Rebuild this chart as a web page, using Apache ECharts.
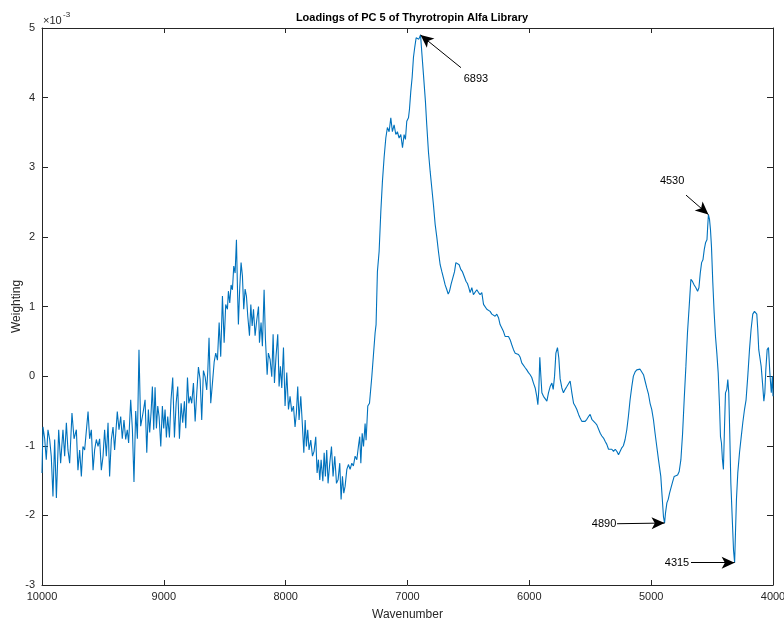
<!DOCTYPE html>
<html>
<head>
<meta charset="utf-8">
<script src="https://cdn.jsdelivr.net/npm/echarts@6/dist/echarts.min.js"></script>
<style>
  html, body { margin: 0; padding: 0; background: #ffffff; }
  #chart { width: 784px; height: 621px; }
</style>
</head>
<body>
<div id="chart"></div>
<script>
// PC 5 loading spectrum (weighting in units of 1e-3) against wavenumber (cm^-1)
const wavenumber = [
  10000, 9992, 9978, 9965, 9951, 9937, 9924, 9910, 9896, 9882, 9863, 9847, 9828, 9814, 9800, 9787,
  9773, 9754, 9737, 9718, 9705, 9691, 9677, 9664, 9650, 9622, 9609, 9595, 9581, 9568, 9554, 9540,
  9527, 9513, 9499, 9486, 9472, 9458, 9445, 9431, 9417, 9404, 9382, 9368, 9354, 9341, 9327, 9313,
  9300, 9289, 9272, 9258, 9245, 9231, 9217, 9204, 9190, 9171,
  9154, 9140, 9127, 9116, 9105, 9094, 9083, 9072, 9061, 9050, 9039, 9025, 9012, 9001, 8990, 8979,
  8968, 8954, 8941, 8927, 8913, 8899, 8886, 8872, 8858, 8845, 8831, 8820, 8806, 8795, 8782, 8771,
  8757, 8743, 8730, 8716, 8702, 8689, 8675, 8661, 8648, 8639, 8629, 8615, 8601, 8587, 8574, 8560,
  8546, 8533, 8519, 8505, 8492, 8478, 8470, 8459, 8448, 8437, 8426, 8415, 8404, 8396, 8388, 8377,
  8366, 8355, 8344, 8333, 8322, 8311, 8297, 8286, 8275, 8264, 8251, 8237, 8223, 8215,
  8202, 8191, 8177, 8166, 8152, 8142, 8128, 8114, 8103, 8092, 8079, 8065, 8054, 8043, 8032, 8018,
  8005, 7991, 7977, 7964, 7950, 7936, 7923, 7912, 7901, 7890, 7876, 7865, 7851, 7840, 7830, 7819,
  7808, 7794, 7780, 7767, 7753, 7742, 7731, 7720, 7709, 7695, 7684, 7674, 7663, 7652, 7638, 7624,
  7611, 7597, 7583, 7570, 7556, 7545, 7534, 7523, 7512, 7498, 7485, 7471, 7457, 7444, 7430, 7416,
  7403, 7392, 7383, 7372, 7361, 7348, 7340, 7326, 7312, 7293, 7266,
  7258, 7247, 7233, 7219, 7206, 7192, 7178, 7165, 7151, 7137, 7124, 7110, 7096, 7083, 7069, 7055,
  7041, 7028, 7017, 7006, 6992, 6984, 6973, 6962, 6951, 6940, 6929, 6918, 6907, 6893, 6883, 6869,
  6853, 6842, 6828, 6814, 6801, 6787, 6773, 6759, 6746, 6732, 6718, 6705, 6691, 6677, 6666, 6655,
  6642, 6628, 6614, 6603, 6590, 6576, 6562, 6549, 6535,
  6519, 6508, 6497, 6486, 6472, 6459, 6445, 6431, 6417, 6404, 6390, 6376, 6363, 6349, 6335, 6322,
  6308, 6294, 6281, 6267, 6253, 6240, 6226, 6212, 6199, 6185, 6171, 6157, 6144, 6130, 6116, 6103,
  6089, 6075, 6062, 6048, 6034, 6021, 6007, 5993, 5980, 5966, 5952, 5939, 5930, 5922, 5914, 5906,
  5897, 5884, 5870, 5856, 5843, 5829, 5815, 5804, 5793, 5782, 5769, 5758, 5747, 5733, 5720, 5706,
  5692, 5678, 5665, 5651, 5637, 5624, 5610, 5596, 5583, 5569, 5555, 5542, 5528, 5514, 5501, 5487,
  5473, 5460, 5446, 5432, 5418, 5405, 5391, 5377, 5364, 5350, 5336, 5323, 5309, 5295, 5282, 5268,
  5255, 5241, 5228, 5214, 5200, 5187, 5173, 5159, 5146, 5132, 5118, 5104, 5091, 5077, 5063, 5050,
  5036, 5022, 5009, 4995, 4981, 4968, 4954, 4940, 4921, 4910, 4899, 4890, 4882, 4871, 4860, 4849,
  4838, 4824, 4811, 4797, 4783, 4770, 4756, 4742, 4729, 4715, 4702, 4688, 4674, 4661, 4647, 4633,
  4619, 4608, 4597, 4586, 4575, 4564, 4553, 4542, 4536, 4530, 4521, 4513, 4505, 4494, 4483, 4472,
  4461, 4450, 4439, 4431, 4423, 4415, 4407, 4398, 4390, 4379, 4371, 4363, 4355, 4346, 4333, 4324,
  4315, 4308, 4300, 4289, 4275, 4262, 4248, 4234, 4221, 4207, 4193, 4180, 4166, 4152, 4141, 4133,
  4125, 4117, 4108, 4097, 4086, 4075, 4067, 4059, 4048, 4037, 4026, 4014, 4005, 4000
];

const weighting = [
  -1.39, -0.73, -0.90, -1.20, -0.77, -0.91, -1.15, -1.73, -0.91, -1.75, -0.77, -1.25, -0.77, -1.15, -0.67, -1.06,
  -1.25, -0.53, -0.90, -0.77, -1.35, -1.06, -1.44, -1.01, -1.06, -0.51, -0.90, -0.77, -1.35, -1.06, -0.91, -1.01,
  -0.90, -1.35, -1.15, -0.77, -1.15, -0.67, -1.44, -0.91, -0.73, -1.06, -0.51, -0.77, -0.58, -0.90, -0.63, -0.91,
  -0.77, -0.96, -0.34, -0.77, -1.52, -0.50, -0.90, 0.38, -0.72, -0.53,
  -0.34, -1.10, -0.48, -0.81, -0.53, -0.15, -0.77, -0.16, -0.75, -0.43, -0.58, -1.01, -0.43, -0.75, -0.48, -0.88,
  -0.58, -0.88, -0.34, -0.02, -0.88, -0.39, -0.15, -0.90, -0.39, -0.67, -0.36, -0.75, -0.02, -0.39, -0.29, -0.39,
  -0.10, -0.65, -0.25, 0.13, -0.05, -0.63, 0.08, -0.01, -0.20, 0.08, 0.55, -0.39, -0.10, 0.20, 0.33, 0.23,
  0.77, 0.28, 1.15, 0.48, 1.03, 0.96, 1.22, 1.05, 1.31, 1.24, 1.58, 1.48, 1.96, 1.29, 0.74, 1.27,
  1.63, 1.44, 0.96, 1.25, 1.15, 0.86, 0.58, 1.03, 0.72, 0.96, 0.58, 0.81, 1.00, 0.48,
  0.77, 0.43, 1.24, 0.53, 0.02, 0.33, 0.24, -0.01, 0.60, -0.10, 0.29, 0.60, -0.15, 0.14, -0.17, 0.41,
  -0.43, 0.05, -0.48, -0.29, -0.51, -0.43, -0.73, -0.53, -0.15, -0.63, -0.29, -0.63, -1.10, -0.63, -1.01, -0.77,
  -1.06, -0.92, -1.15, -1.08, -0.87, -1.39, -1.20, -1.49, -1.20, -1.51, -1.10, -1.44, -1.06, -1.54, -1.25, -1.01,
  -1.44, -1.15, -1.54, -1.49, -1.25, -1.77, -1.44, -1.68, -1.58, -1.34, -1.27, -1.34, -1.25, -1.29, -1.15, -1.20,
  -1.01, -0.87, -1.25, -0.82, -1.01, -0.68, -0.92, -0.43, -0.39, -0.01, 0.62,
  0.74, 1.50, 1.79, 2.36, 2.79, 3.14, 3.42, 3.57, 3.51, 3.71, 3.51, 3.61, 3.47, 3.51, 3.42, 3.47,
  3.28, 3.47, 3.40, 3.66, 3.71, 3.83, 4.09, 4.29, 4.58, 4.73, 4.86, 4.88, 4.84, 4.90, 4.66, 4.33,
  3.95, 3.61, 3.22, 2.94, 2.71, 2.46, 2.18, 1.99, 1.79, 1.60, 1.50, 1.41, 1.31, 1.24, 1.18, 1.22,
  1.32, 1.41, 1.50, 1.63, 1.63, 1.60, 1.53, 1.50, 1.48,
  1.36, 1.33, 1.27, 1.20, 1.27, 1.17, 1.15, 1.24, 1.20, 1.17, 1.20, 1.03, 1.05, 0.96, 0.96, 0.93,
  0.89, 0.91, 0.86, 0.89, 0.84, 0.74, 0.69, 0.64, 0.57, 0.59, 0.57, 0.52, 0.45, 0.38, 0.33, 0.31,
  0.31, 0.27, 0.19, 0.17, 0.12, 0.09, 0.05, 0.02, -0.02, -0.10, -0.17, -0.29, -0.41, -0.19, 0.27, 0.02,
  -0.24, -0.29, -0.27, -0.36, -0.24, -0.15, -0.10, -0.19, 0.00, 0.33, 0.41, 0.26, -0.04, -0.17, -0.24, -0.19,
  -0.15, -0.15, -0.07, -0.24, -0.39, -0.43, -0.48, -0.55, -0.60, -0.65, -0.67, -0.65, -0.62, -0.58, -0.55, -0.62,
  -0.60, -0.67, -0.70, -0.72, -0.82, -0.86, -0.89, -0.94, -0.98, -1.05, -1.03, -1.05, -1.08, -1.05, -1.08, -1.13,
  -1.13, -1.03, -1.00, -0.91, -0.77, -0.58, -0.34, -0.15, 0.00, 0.06, 0.09, 0.10, 0.10, 0.09, 0.02, -0.07,
  -0.17, -0.26, -0.39, -0.48, -0.63, -0.82, -1.01, -1.20, -1.44, -1.73, -2.02, -2.11, -1.96, -1.82, -1.77, -1.68,
  -1.61, -1.52, -1.44, -1.44, -1.42, -1.37, -1.20, -0.82, -0.34, 0.14, 0.62, 1.00, 1.39, 1.36, 1.31, 1.27,
  1.22, 1.27, 1.48, 1.63, 1.67, 1.82, 1.92, 1.96, 2.15, 2.32, 2.25, 2.10, 1.86, 1.34, 0.91, 0.57,
  0.33, 0.05, -0.43, -0.87, -0.96, -1.20, -1.34, -0.73, -0.24, -0.19, -0.05, -0.24, -0.82, -1.54, -2.11, -2.50,
  -2.68, -2.25, -1.77, -1.39, -1.10, -0.89, -0.67, -0.48, -0.34, 0.00, 0.38, 0.67, 0.89, 0.93, 0.95, 0.89,
  0.67, 0.38, 0.36, 0.14, -0.10, -0.36, -0.24, 0.09, 0.38, 0.41, 0.05, -0.24, 0.00, -0.29
];

// Annotated band positions (cm^-1)
const annotatedPeaks = [6893, 4530, 4890, 4315];

// Axis ticks
const xTicks = [10000, 9000, 8000, 7000, 6000, 5000, 4000];
const yTicks = [-3, -2, -1, 0, 1, 2, 3, 4, 5];

const seriesData = wavenumber.map((w, i) => [w, weighting[i]]);
const valueAt = (w) => weighting[wavenumber.indexOf(w)];

// Where each annotation's arrow tail and text sit, in data units
const annoLayout = {
  6893: { tail: [6561, 4.43], text: [6438, 4.27] },
  4530: { tail: [4714, 2.60], text: [4828, 2.81] },
  4890: { tail: [5280, -2.12], text: [5387, -2.13] },
  4315: { tail: [4673, -2.68], text: [4788, -2.69] }
};

const FONT = 'Liberation Sans, Arial, Helvetica, sans-serif';
const AXIS_COLOR = '#262626';
const LINE_COLOR = '#0072BD';

const arrowLines = annotatedPeaks.map(p => [
  { coord: annoLayout[p].tail },
  { coord: [p, valueAt(p)] }
]);
const arrowTexts = annotatedPeaks.map(p => ({
  coord: annoLayout[p].text,
  value: String(p)
}));

const xMin = Math.min(...xTicks), xMax = Math.max(...xTicks);
const yMin = Math.min(...yTicks), yMax = Math.max(...yTicks);
const plainNumber = (v) => String(v);

const baseX = {
  type: 'value', min: xMin, max: xMax, interval: 1000, inverse: true,
  splitLine: { show: false },
  axisLine: { show: true, onZero: false, lineStyle: { color: AXIS_COLOR, width: 1 } },
  axisTick: { show: true, inside: true, length: 5, lineStyle: { color: AXIS_COLOR } }
};
const baseY = {
  type: 'value', min: yMin, max: yMax, interval: 1,
  splitLine: { show: false },
  axisLine: { show: true, onZero: false, lineStyle: { color: AXIS_COLOR, width: 1 } },
  axisTick: { show: true, inside: true, length: 6, lineStyle: { color: AXIS_COLOR } }
};

const chart = echarts.init(document.getElementById('chart'), null, { renderer: 'canvas' });
chart.setOption({
  animation: false,
  backgroundColor: '#ffffff',
  title: {
    text: 'Loadings of PC 5 of Thyrotropin Alfa Library',
    left: 407, top: 7, textAlign: 'center',
    textStyle: { fontFamily: FONT, fontSize: 11, fontWeight: 'bold', color: '#000000' }
  },
  grid: { left: 42, right: 11, top: 28, bottom: 36, containLabel: false, outerBoundsMode: 'none' },
  xAxis: [
    Object.assign({}, baseX, {
      position: 'bottom',
      name: 'Wavenumber', nameLocation: 'middle', nameGap: 24, nameMoveOverlap: false,
      nameTextStyle: { fontFamily: FONT, fontSize: 12, color: AXIS_COLOR },
      axisLabel: { show: true, margin: 6, formatter: plainNumber, fontFamily: FONT, fontSize: 11, color: AXIS_COLOR }
    }),
    Object.assign({}, baseX, { position: 'top', axisLabel: { show: false } })
  ],
  yAxis: [
    Object.assign({}, baseY, {
      position: 'left',
      name: 'Weighting', nameLocation: 'middle', nameGap: 19, nameRotate: 90, nameMoveOverlap: false,
      nameTextStyle: { fontFamily: FONT, fontSize: 12, color: AXIS_COLOR },
      axisLabel: { show: true, margin: 7, formatter: plainNumber, fontFamily: FONT, fontSize: 11, color: AXIS_COLOR }
    }),
    Object.assign({}, baseY, { position: 'right', axisLabel: { show: false } })
  ],
  graphic: [
    {
      type: 'text', left: 43, top: 15,
      style: { text: '×10', font: '11px ' + FONT, fill: AXIS_COLOR }
    },
    {
      type: 'text', left: 63, top: 11,
      style: { text: '-3', font: '8px ' + FONT, fill: AXIS_COLOR }
    }
  ],
  series: [
    {
      type: 'line',
      xAxisIndex: 0, yAxisIndex: 0,
      data: seriesData,
      showSymbol: false,
      symbol: 'none',
      lineStyle: { color: LINE_COLOR, width: 1.1 },
      itemStyle: { color: LINE_COLOR },
      emphasis: { disabled: true },
      silent: true,
      markLine: {
        silent: true,
        symbol: ['none', 'arrow'],
        symbolSize: [9, 13],
        label: { show: false },
        lineStyle: { color: '#000000', width: 1, type: 'solid' },
        data: arrowLines
      },
      markPoint: {
        silent: true,
        symbol: 'circle',
        symbolSize: 0,
        label: {
          show: true, position: 'inside',
          formatter: (p) => p.value,
          fontFamily: FONT, fontSize: 11, color: '#000000'
        },
        data: arrowTexts
      }
    }
  ]
});
</script>
</body>
</html>
